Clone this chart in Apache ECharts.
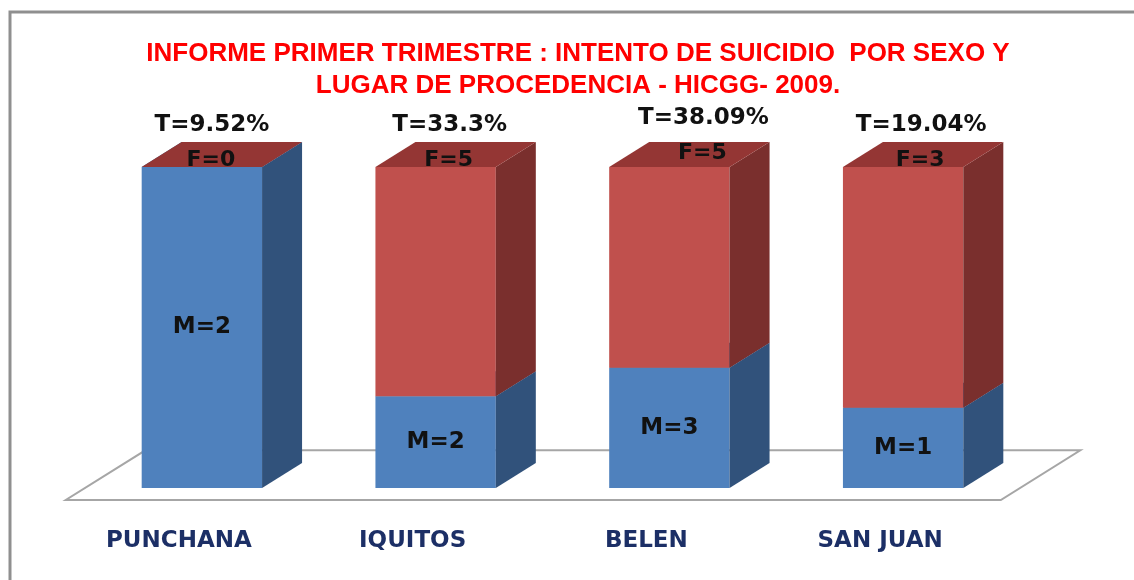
<!DOCTYPE html>
<html>
<head>
<meta charset="utf-8">
<script src="https://cdn.jsdelivr.net/npm/echarts@6/dist/echarts.min.js"></script>
<style>
html, body { margin: 0; padding: 0; background: #fff; }
#main { width: 1134px; height: 580px; }
</style>
</head>
<body>
<div id="main"></div>
<script>
// datos
var lugares = ["PUNCHANA", "IQUITOS", "BELEN", "SAN JUAN"];
var masculino = [2, 2, 3, 1];
var femenino = [0, 5, 5, 3];
var totales = ["T=9.52%", "T=33.3%", "T=38.09%", "T=19.04%"];

(function() {
    var myChart = echarts.init(document.getElementById("main"));

    // profundidad 3D
    var DX = 40, DY = -25;
    var FUENTE = '"DejaVu Sans", Verdana, sans-serif';
    // pequeños ajustes de las etiquetas de arriba (como en el original)
    var ajuste = [[-4, 0], [0, 0], [20, -7], [4, 0]];

    // apilado al 100%
    var datosM = [], datosF = [];
    for (var i = 0; i < lugares.length; i++) {
        var t = masculino[i] + femenino[i];
        var pm = masculino[i] / t * 100;
        datosM.push([i, 0, pm, masculino[i]]);
        datosF.push([i, pm, 100, femenino[i]]);
    }

    function caja(col, prefijo, esArriba) {
        return function(params, api) {
            var i = api.value(0);
            var p0 = api.coord([i, api.value(1)]);
            var p1 = api.coord([i, api.value(2)]);
            var w = api.size([1, 0])[0] * 0.515;
            var x0 = p0[0] - w / 2, x1 = p0[0] + w / 2;
            var yb = p0[1], yt = p1[1];
            var hijos = [{
                type: "polygon",
                shape: { points: [[x0, yb], [x1, yb], [x1, yt], [x0, yt]] },
                style: { fill: col.frente }
            }, {
                type: "polygon",
                shape: { points: [[x1, yb], [x1 + DX, yb + DY], [x1 + DX, yt + DY], [x1, yt]] },
                style: { fill: col.lado }
            }, {
                type: "polygon",
                shape: { points: [[x0, yt], [x1, yt], [x1 + DX, yt + DY], [x0 + DX, yt + DY]] },
                style: { fill: col.arriba }
            }];
            var n = api.value(3);
            if (!esArriba) {
                hijos.push({
                    type: "text", z2: 10,
                    x: p0[0], y: (yb + yt) / 2,
                    style: {
                        text: prefijo + n, align: "center", verticalAlign: "middle",
                        fontSize: 23, fontWeight: "bold", fontFamily: FUENTE, fill: "#111"
                    }
                });
            } else {
                var a = ajuste[i];
                hijos.push({
                    type: "text", z2: 10,
                    x: p0[0] + 13 + a[0], y: yt - 7 + a[1],
                    style: {
                        text: prefijo + n, align: "center", verticalAlign: "middle",
                        fontSize: 22, fontWeight: "bold", fontFamily: FUENTE, fill: "#111"
                    }
                });
                hijos.push({
                    type: "text", z2: 10,
                    x: p0[0] + 14 + a[0], y: yt - 42 + a[1],
                    style: {
                        text: totales[i], align: "center", verticalAlign: "middle",
                        fontSize: 23, fontWeight: "bold", fontFamily: FUENTE, fill: "#111"
                    }
                });
            }
            return { type: "group", children: hijos };
        };
    }

    // piso
    function piso(params, api) {
        var cs = params.coordSys;
        var y0 = api.coord([0, 0])[1];
        var l = cs.x, r = cs.x + cs.width;
        var yf = y0 + 12, yt = y0 - 37.7;
        var sf = 12 * 1.6, st = 37.7 * 1.6;
        return {
            type: "polygon",
            shape: { points: [[l - sf, yf], [r - sf, yf], [r + st, yt], [l + st, yt]] },
            style: { fill: "#fff", stroke: "#a6a6a6", lineWidth: 2 }
        };
    }

    var option = {
        backgroundColor: "#fff",
        animation: false,
        title: {
            text: "INFORME PRIMER TRIMESTRE : INTENTO DE SUICIDIO  POR SEXO Y\nLUGAR DE PROCEDENCIA - HICGG- 2009.",
            left: 573,
            top: 33,
            textAlign: "center",
            textStyle: {
                color: "#ff0000",
                fontSize: 26,
                fontWeight: "bold",
                fontFamily: "Liberation Sans, Arial, sans-serif",
                lineHeight: 32,
                align: "center"
            }
        },
        graphic: [{
            type: "rect",
            shape: { x: 10, y: 12, width: 1140, height: 600 },
            style: { fill: "none", stroke: "#8f8f8f", lineWidth: 3 },
            silent: true
        }],
        grid: {
            left: 85,
            right: 114,
            top: 167,
            bottom: 92
        },
        xAxis: {
            type: "category",
            data: lugares,
            axisLine: { show: false },
            axisTick: { show: false },
            axisLabel: {
                margin: 42,
                padding: [0, 46, 0, 0],
                color: "#1c2f66",
                fontSize: 23,
                fontWeight: "bold",
                fontFamily: FUENTE
            }
        },
        yAxis: {
            type: "value",
            min: 0,
            max: 100,
            show: false
        },
        series: [{
            type: "custom",
            renderItem: piso,
            data: [[0, 0]],
            clip: false,
            silent: true
        }, {
            name: "M",
            type: "custom",
            renderItem: caja({ frente: "#4f81bd", lado: "#31527b", arriba: "#3d6698" }, "M=", false),
            encode: { x: 0, y: [1, 2] },
            data: datosM,
            clip: false
        }, {
            name: "F",
            type: "custom",
            renderItem: caja({ frente: "#c0504d", lado: "#7a2f2d", arriba: "#943634" }, "F=", true),
            encode: { x: 0, y: [1, 2] },
            data: datosF,
            clip: false
        }]
    };

    myChart.setOption(option);
    window.addEventListener("resize", function() {
        myChart.resize();
    });
})();
</script>
</body>
</html>
